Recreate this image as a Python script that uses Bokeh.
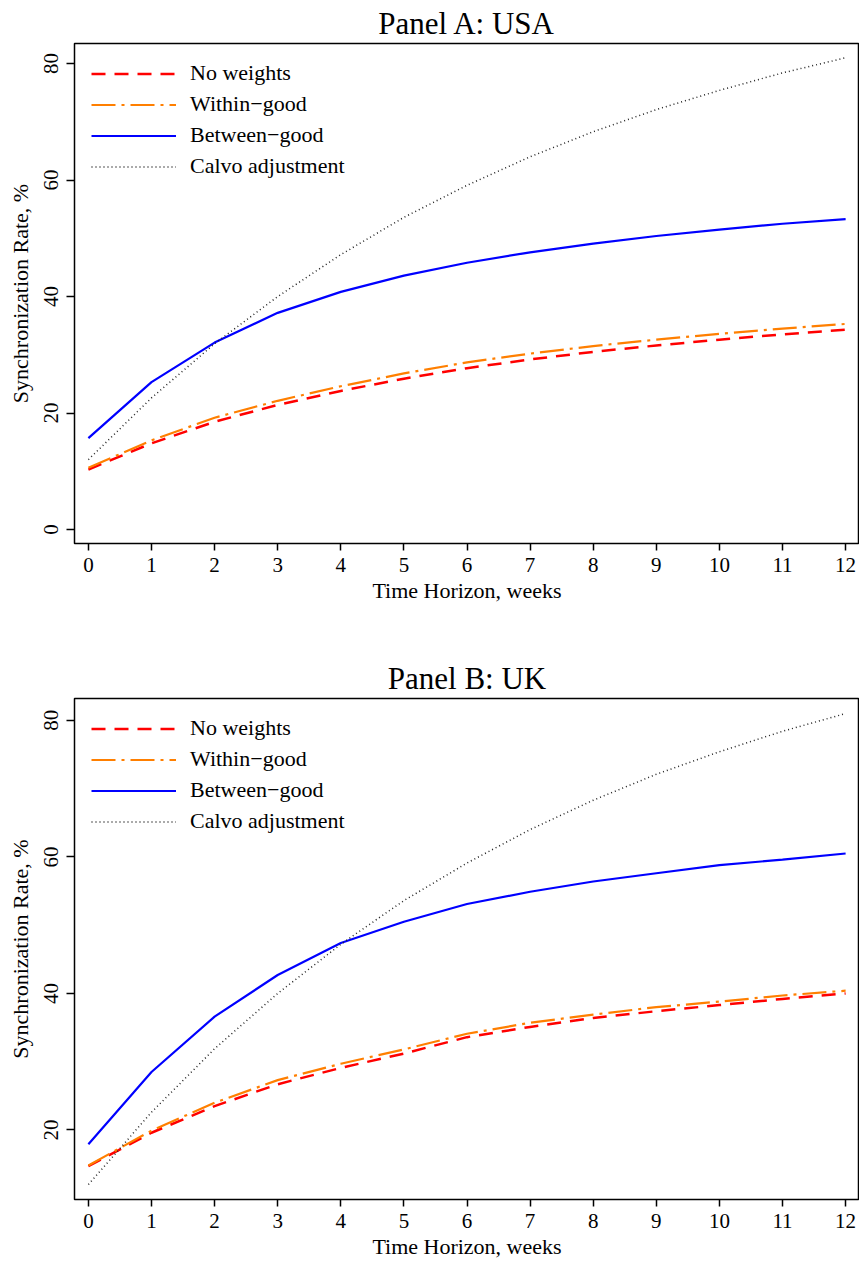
from bokeh.embed import file_html
from bokeh.layouts import column
from bokeh.models import FixedTicker, Legend, LegendItem, Range1d, Title
from bokeh.plotting import figure
from bokeh.resources import INLINE

# Horizon (weeks) and tick positions
weeks = [0, 1, 2, 3, 4, 5, 6, 7, 8, 9, 10, 11, 12]
x_ticks = [0, 1, 2, 3, 4, 5, 6, 7, 8, 9, 10, 11, 12]

# Panel A: USA, synchronization rate in %
usa_no_weights = [10.3, 14.8, 18.5, 21.4, 23.8, 25.9, 27.7, 29.2, 30.5, 31.6, 32.6, 33.5, 34.3]
usa_within_good = [10.6, 15.3, 19.2, 22.1, 24.6, 26.8, 28.7, 30.2, 31.5, 32.6, 33.6, 34.5, 35.3]
usa_between_good = [15.7, 25.3, 32.1, 37.2, 40.8, 43.6, 45.8, 47.6, 49.1, 50.4, 51.5, 52.5, 53.3]
usa_calvo = [12.0, 22.6, 31.9, 40.0, 47.2, 53.6, 59.1, 64.0, 68.3, 72.1, 75.4, 78.4, 81.0]
usa_y_ticks = [0, 20, 40, 60, 80]

# Panel B: UK, synchronization rate in %
uk_no_weights = [14.7, 19.6, 23.5, 26.7, 29.1, 31.2, 33.6, 35.1, 36.4, 37.4, 38.3, 39.2, 40.0]
uk_within_good = [14.8, 19.9, 24.0, 27.3, 29.7, 31.8, 34.1, 35.7, 36.9, 38.0, 38.8, 39.7, 40.4]
uk_between_good = [17.9, 28.5, 36.6, 42.7, 47.4, 50.5, 53.1, 54.9, 56.4, 57.6, 58.8, 59.6, 60.5]
uk_calvo = [12.0, 22.6, 31.9, 40.0, 47.2, 53.6, 59.1, 64.0, 68.3, 72.1, 75.4, 78.4, 81.0]
uk_y_ticks = [20, 40, 60, 80]

series_labels = ["No weights", "Within\u2212good", "Between\u2212good", "Calvo adjustment"]
series_colors = ["#FF0000", "#FF7F00", "#0000FF", "#222222"]
series_dashes = ["14 9", "24 6 3 6", "solid", "1 3"]
series_widths = [2.5, 2.2, 2.2, 1.5]

FONT = "Liberation Serif"
WIDTH = 859
BORDER_LEFT = 74
BORDER_TOP = 42


def make_panel(title, series, y_lo, y_hi, y_ticks, height, bottom):
    p = figure(
        width=WIDTH, height=height,
        x_range=Range1d(-0.22, 12.22), y_range=Range1d(y_lo, y_hi),
        output_backend="svg", toolbar_location=None,
        min_border_left=BORDER_LEFT, min_border_right=0,
        min_border_top=BORDER_TOP, min_border_bottom=bottom,
        background_fill_color="white", border_fill_color="white",
    )
    p.title = Title(text=title, align="center", text_font=FONT,
                    text_font_size="31px", text_font_style="normal",
                    text_color="black", standoff=6)
    p.grid.visible = False
    p.outline_line_color = "black"
    p.outline_line_width = 1.5
    p.outline_line_alpha = 1.0

    for ax in (p.xaxis, p.yaxis):
        ax.axis_line_color = None
        ax.major_tick_in = 0
        ax.major_tick_line_width = 1.5
        ax.major_tick_line_color = "black"
        ax.minor_tick_line_color = None
        ax.major_label_text_font = FONT
        ax.major_label_text_font_size = "21px"
        ax.major_label_text_color = "black"
        ax.axis_label_text_font = FONT
        ax.axis_label_text_font_size = "22px"
        ax.axis_label_text_font_style = "normal"
        ax.axis_label_text_color = "black"

    p.xaxis.ticker = FixedTicker(ticks=x_ticks)
    p.xaxis.major_tick_out = 7
    p.xaxis.major_label_standoff = 7
    p.xaxis.axis_label = "Time Horizon, weeks"
    p.xaxis.axis_label_standoff = 3

    p.yaxis.ticker = FixedTicker(ticks=y_ticks)
    p.yaxis.major_tick_out = 8
    p.yaxis.major_label_orientation = "vertical"
    p.yaxis.major_label_standoff = 8
    p.yaxis.axis_label = "Synchronization Rate, %"
    p.yaxis.axis_label_standoff = 9

    items = []
    for ys, lab, col, dash, lw in zip(series, series_labels, series_colors,
                                      series_dashes, series_widths):
        r = p.line(weeks, ys, line_color=col, line_dash=dash, line_width=lw)
        items.append(LegendItem(label=lab, renderers=[r]))

    legend = Legend(
        items=items, location="top_left", margin=17, padding=0,
        border_line_color=None, background_fill_alpha=0,
        label_text_font=FONT, label_text_font_size="22px",
        label_text_color="black", glyph_width=85, glyph_height=23,
        label_height=23, label_standoff=14, spacing=5,
    )
    p.add_layout(legend)
    return p


panel_a = make_panel(
    "Panel A: USA",
    [usa_no_weights, usa_within_good, usa_between_good, usa_calvo],
    -2.4, 83.45, usa_y_ticks, 655, 112,
)
panel_b = make_panel(
    "Panel B: UK",
    [uk_no_weights, uk_within_good, uk_between_good, uk_calvo],
    9.82, 83.2, uk_y_ticks, 606, 62,
)

layout = column(panel_a, panel_b, spacing=0)

with open("out.html", "w") as f:
    f.write(file_html(layout, INLINE))
